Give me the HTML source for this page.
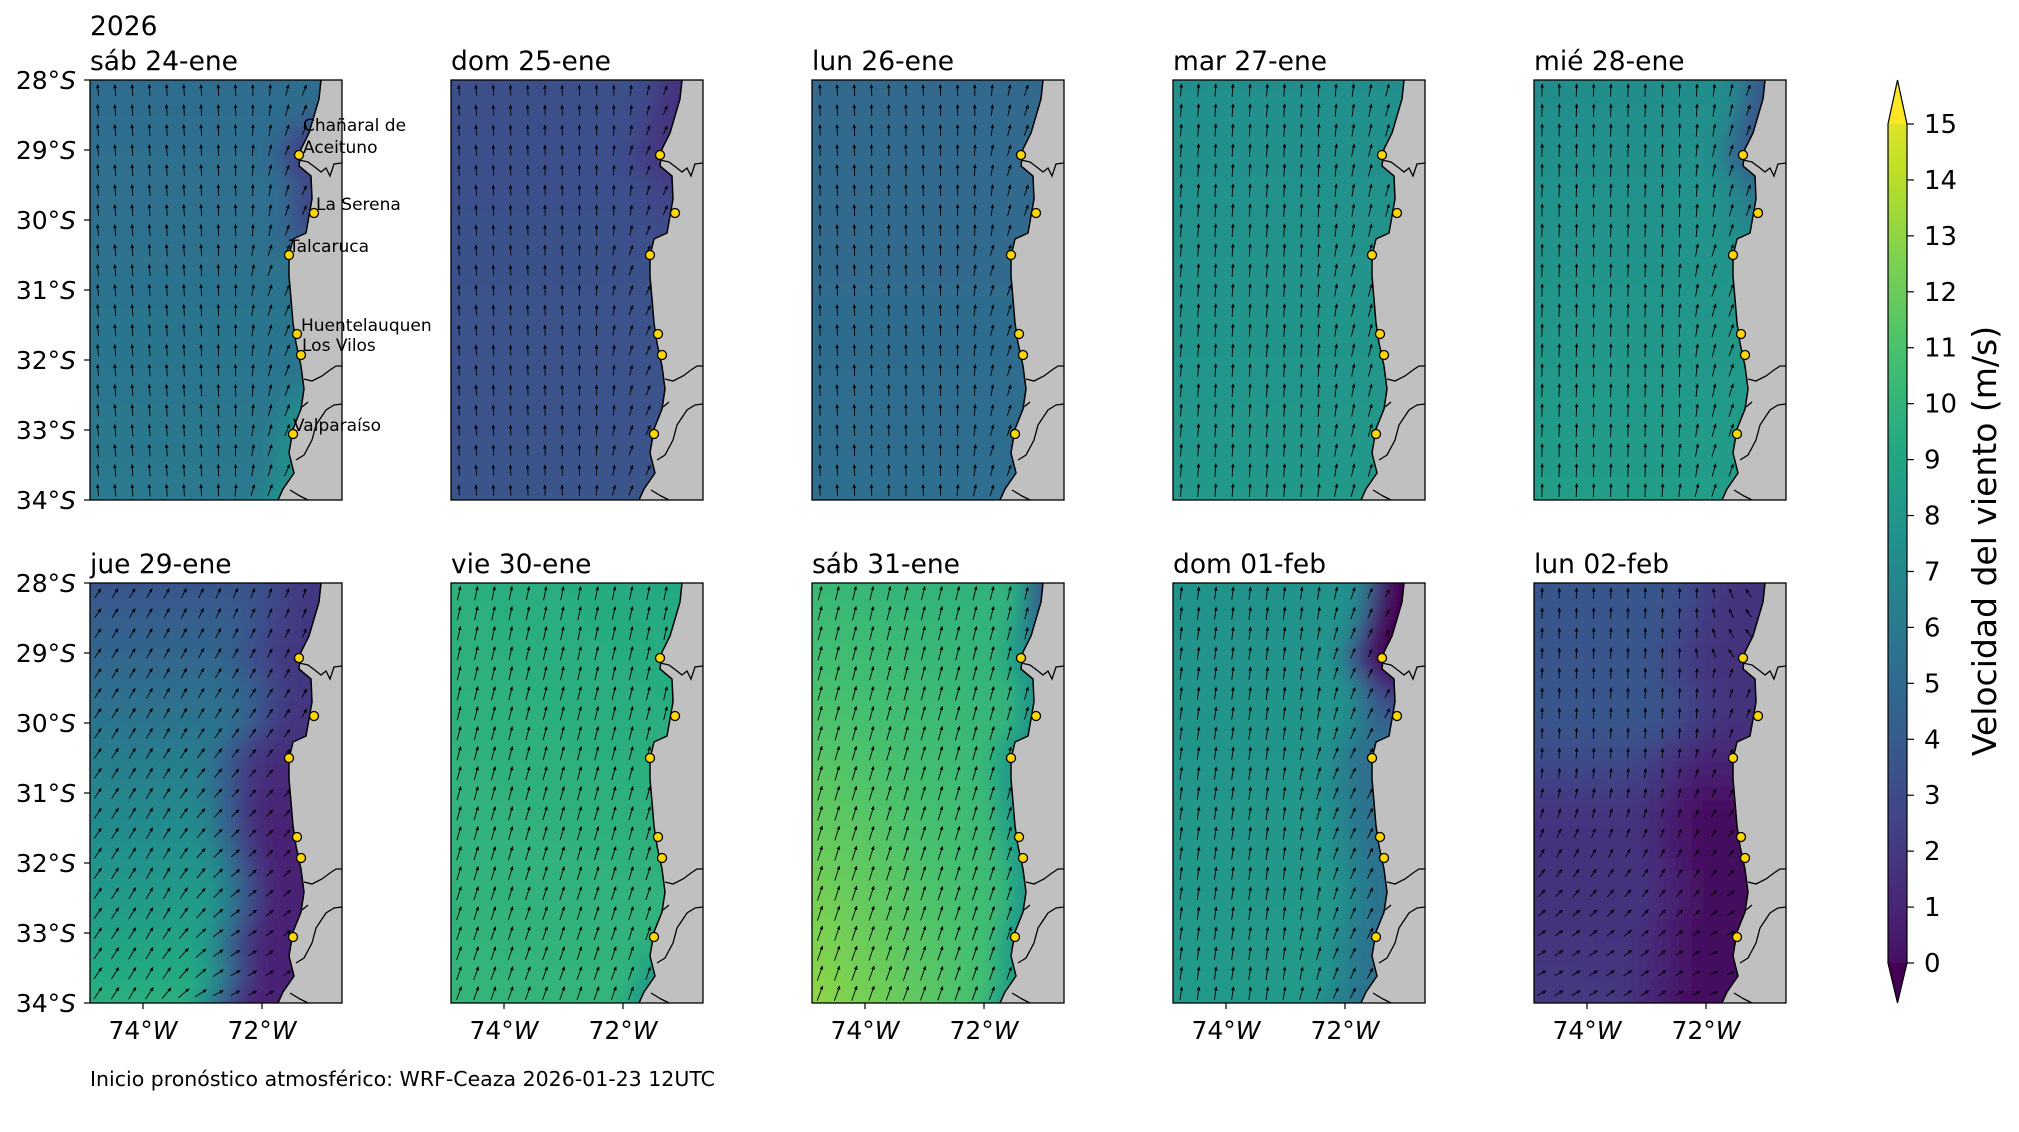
<!DOCTYPE html>
<html><head><meta charset="utf-8">
<style>
html,body{margin:0;padding:0;background:#fff;}
body{width:2019px;height:1128px;overflow:hidden;font-family:"DejaVu Sans","Liberation Sans",sans-serif;}
svg text{font-family:"DejaVu Sans","Liberation Sans",sans-serif;fill:#000;}
</style></head><body>
<svg id="s" width="2019" height="1128" xmlns="http://www.w3.org/2000/svg">
<defs>
<filter id="bl" x="-5%" y="-5%" width="110%" height="110%"><feGaussianBlur stdDeviation="9"/></filter>
<linearGradient id="cb" x1="0" y1="1" x2="0" y2="0">
<stop offset="0" stop-color="#440154"/><stop offset="0.1" stop-color="#482475"/><stop offset="0.2" stop-color="#414487"/><stop offset="0.3" stop-color="#355f8d"/><stop offset="0.4" stop-color="#2a788e"/><stop offset="0.5" stop-color="#21918c"/><stop offset="0.6" stop-color="#22a884"/><stop offset="0.7" stop-color="#44bf70"/><stop offset="0.8" stop-color="#7ad151"/><stop offset="0.9" stop-color="#bddf26"/><stop offset="1" stop-color="#fde725"/>
</linearGradient>
</defs>
<g id="g"></g>
<text x="90" y="35" font-size="26.5">2026</text>
<text x="90" y="1086" font-size="20.5">Inicio pronóstico atmosférico: WRF-Ceaza 2026-01-23 12UTC</text>
<polygon points="1888,124 1897.5,80 1907,124 1907,963 1897.5,1003 1888,963" fill="url(#cb)"/>
<polygon points="1888,124 1897.5,80 1907,124" fill="#fde725"/>
<polygon points="1888,963 1897.5,1003 1907,963" fill="#440154"/>
<polygon points="1888,124 1897.5,80 1907,124 1907,963 1897.5,1003 1888,963" fill="none" stroke="#000" stroke-width="1.2"/>
<g id="cbt"></g>
<text transform="translate(1996,541) rotate(-90)" text-anchor="middle" font-size="33">Velocidad del viento (m/s)</text>
</svg>
<script>
var g=document.getElementById('g');
var html='';
var VK=[[68,1,84],[72,36,117],[65,68,135],[53,95,141],[42,120,142],[33,145,140],[34,168,132],[68,191,112],[122,209,81],[189,223,38],[253,231,37]];
function vir(s){var t=Math.max(0,Math.min(1,s/15))*10;var i=Math.min(9,Math.floor(t)),f=t-i;var a=VK[i],b=VK[i+1];
return 'rgb('+[0,1,2].map(function(k){return Math.round(a[k]+(b[k]-a[k])*f)}).join(',')+')';}
function ss(a,b,x){var t=Math.max(0,Math.min(1,(x-a)/(b-a)));return t*t*(3-2*t);}
var coast=[[231,0],[229,19],[219,53],[211,69],[209,86],[221,96],[222,119],[216,153],[203,159],[199,176],[199,196],[201,219],[203,243],[206,263],[211,286],[214,309],[211,329],[203,349],[199,373],[204,393],[193,409],[188,420]];
function cx(v){var y=v*420;for(var i=0;i<coast.length-1;i++){if(y>=coast[i][1]&&y<=coast[i+1][1]){var f=(y-coast[i][1])/(coast[i+1][1]-coast[i][1]||1);return (coast[i][0]+(coast[i+1][0]-coast[i][0])*f)/252;}}return 0.75;}
var P=[
{t:'sáb 24-ene',f:function(u,v,d){return 5.3+0.8*v+1.5*ss(0.12,0,d)*ss(0.7,0.8,v)-2.5*ss(0.15,0,d)*ss(0.05,0.15,v)*ss(0.42,0.33,v);},a:function(u,v,d){return -6*(1-u)+25*ss(0.3,0,d);}},
{t:'dom 25-ene',f:function(u,v,d){return 3.6+0.3*v-1.5*ss(0.2,0,d)*ss(0.45,0.1,v);},a:function(u,v,d){return -4*(1-u)+25*ss(0.3,0,d);}},
{t:'lun 26-ene',f:function(u,v,d){return 5.1+0.3*v;},a:function(u,v,d){return -3*(1-u)+20*ss(0.3,0,d);}},
{t:'mar 27-ene',f:function(u,v,d){return 7.4+0.6*v;},a:function(u,v,d){return 4+12*ss(0.3,0,d);}},
{t:'mié 28-ene',f:function(u,v,d){return 7.3+1*v-3.5*ss(0.15,0,d)*ss(0.45,0.1,v);},a:function(u,v,d){return 2+18*ss(0.3,0,d);}},
{t:'jue 29-ene',f:function(u,v,d){var b=4+5.5*v;return b-(b-1.5)*ss(0.4,0.1,d)*ss(0.2,0.6,v)-(b-2.5)*ss(0.35,0.05,d)*(1-ss(0.2,0.6,v));},a:function(u,v,d){return 15+40*v*ss(0.6,0.2,d)+20*(1-u);}},
{t:'vie 30-ene',f:function(u,v,d){return 9+0.5*(1-v)*(1-u)+0.8*v-2*ss(0.1,0,d)*ss(0.8,1,v);},a:function(u,v,d){return 12+8*v;}},
{t:'sáb 31-ene',f:function(u,v,d){return 9.5+2.5*v*(1-u)+0.5*(1-u)-4*ss(0.12,0,d)*ss(0.2,0,v)-2*ss(0.1,0,d);},a:function(u,v,d){return 14+6*v;}},
{t:'dom 01-feb',f:function(u,v,d){var b=7.6+0.5*v;return b-(b-1.5)*ss(0.2,0.02,d)*ss(0.4,0.1,v)-2.5*ss(0.25,0,d);},a:function(u,v,d){return 8+20*ss(0.4,0,d);}},
{t:'lun 02-feb',f:function(u,v,d){var b=4-1.8*ss(0.3,0.6,v)+0.3*ss(0.8,1,v)*(1-u);return b-1.8*ss(0.45,0.1,d);},a:function(u,v,d){return 2+60*ss(0.35,0.95,v)*(1-0.3*u)+20*ss(0.3,0,d)*(v<0.2?-2:1);}}
];
var L=[90,451,812,1173,1534],T=[80,583],W=252,H=420;
function fmt(n){return n.toFixed(1);}
var cpath='M'+coast.map(function(p){return p[0]+','+p[1]}).join(' L');
var land=cpath+' L252,420 L252,0 Z';
var bnd='M209,80 L218,82 L226,88 L231,92 L236,88 L240,96 L244,84 L252,83 M214,299 L222,301 L232,296 L240,290 L246,286 L252,286 M212,327 L218,322 M206,380 L214,375 L222,360 L226,345 L236,330 L244,325 L252,324 M200,410 L210,416 L218,420';
var cities=[[209,75],[224,133],[199,175],[207,254],[211,275],[203,354]];
P.forEach(function(p,k){
var r=Math.floor(k/5),c=k%5,x0=L[c],y0=T[r];
var id='cp'+k;
var s='<g transform="translate('+x0+','+y0+')"><clipPath id="'+id+'"><rect width="'+W+'" height="'+H+'"/></clipPath><g clip-path="url(#'+id+')"><g filter="url(#bl)">';
var cs=12;
for(var yy=-24;yy<H+24;yy+=cs)for(var xx=-24;xx<W+24;xx+=cs){var u=(xx+6)/W,v=Math.max(0,Math.min(1,(yy+6)/H));var d=cx(v)-u;s+='<rect x="'+xx+'" y="'+yy+'" width="'+(cs+1)+'" height="'+(cs+1)+'" fill="'+vir(p.f(u,v,d))+'"/>';}
s+='</g>';
for(var j=0;j<21;j++)for(var i=0;i<15;i++){var ax=8+i*17.2,ay=10+j*20;var u=ax/W,v=ay/H,d=cx(v)-u;if(d<0.01)continue;
var sp=p.f(u,v,d);var ang=p.a(u,v,d)*Math.PI/180;var len=9+sp*0.6;var dx=Math.sin(ang)*len,dy=-Math.cos(ang)*len;
var x1=ax-dx/2,y1=ay-dy/2,x2=ax+dx/2,y2=ay+dy/2;var ux=dx/len,uy=dy/len;var hl=4.2,hw=1.8;
var bx=x2-ux*hl,by=y2-uy*hl;
s+='<line x1="'+fmt(x1)+'" y1="'+fmt(y1)+'" x2="'+fmt(bx)+'" y2="'+fmt(by)+'" stroke="#000" stroke-width="0.9"/><polygon points="'+fmt(x2)+','+fmt(y2)+' '+fmt(bx-uy*hw)+','+fmt(by+ux*hw)+' '+fmt(bx+uy*hw)+','+fmt(by-ux*hw)+'"/>';}
s+='<path d="'+land+'" fill="#c0c0c0"/><path d="'+cpath+'" fill="none" stroke="#000" stroke-width="1.5"/><path d="'+bnd+'" fill="none" stroke="#000" stroke-width="1.3"/>';
s+='</g>';
cities.forEach(function(ct){s+='<circle cx="'+ct[0]+'" cy="'+ct[1]+'" r="4.5" fill="#ffd700" stroke="#000" stroke-width="1.3"/>';});
if(k==0){s+='<text x="213" y="51" font-size="17">Chañaral de</text><text x="213" y="73" font-size="17">Aceituno</text><text x="226" y="130" font-size="17">La Serena</text><text x="199" y="172" font-size="17">Talcaruca</text><text x="211" y="251" font-size="17">Huentelauquen</text><text x="212" y="271" font-size="17">Los Vilos</text><text x="203" y="351" font-size="17">Valparaíso</text>';}
s+='<rect width="'+W+'" height="'+H+'" fill="none" stroke="#000" stroke-width="1.3"/>';
s+='<text x="0" y="-10" font-size="26.5">'+p.t+'</text>';
if(c==0){for(var q=0;q<=6;q++){var ty=q*70;s+='<line x1="-6" y1="'+ty+'" x2="0" y2="'+ty+'" stroke="#000" stroke-width="1.2"/><text x="-14" y="'+(ty+9)+'" font-size="25" text-anchor="end">'+(28+q)+'°<tspan font-style="italic">S</tspan></text>';}}
if(r==1){[[53,'74'],[172,'72']].forEach(function(t){s+='<line x1="'+t[0]+'" y1="'+H+'" x2="'+t[0]+'" y2="'+(H+6)+'" stroke="#000" stroke-width="1.2"/><text x="'+t[0]+'" y="'+(H+36)+'" font-size="25" text-anchor="middle">'+t[1]+'°<tspan font-style="italic">W</tspan></text>';});}
s+='</g>';
html+=s;
});
g.innerHTML=html;
var cb='';for(var q=0;q<=15;q++){var y=963-q*(839/15);cb+='<line x1="1907" y1="'+y+'" x2="1914" y2="'+y+'" stroke="#000" stroke-width="1.2"/><text x="1924" y="'+(y+9)+'" font-size="26">'+q+'</text>';}
document.getElementById('cbt').innerHTML=cb;
</script>
</body></html>
